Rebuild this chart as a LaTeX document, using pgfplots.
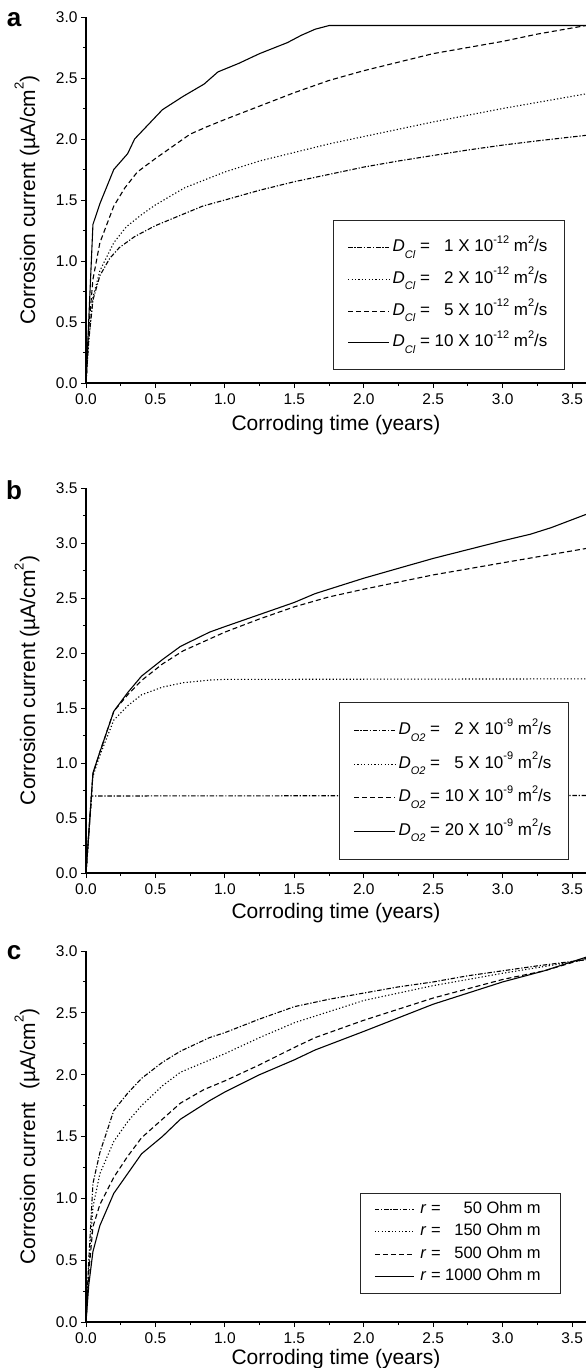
\documentclass[border=0pt]{standalone}
\usepackage{fontspec}
\setmainfont{Liberation Sans}
\usepackage{pgfplots}
\pgfplotsset{compat=1.18}

% small raised / lowered pieces for the legend texts
\newcommand\lsub[1]{\raisebox{-0.38em}{\fontsize{11}{11}\selectfont\itshape #1}}
\newcommand\lsup[1]{\raisebox{0.5em}{\fontsize{11}{11}\selectfont #1}}
\newcommand\ysup[1]{\raisebox{0.55em}{\fontsize{13}{13}\selectfont #1}}

\pgfplotsset{
  corr/.style={
    scale only axis, width=500pt,
    xmin=0, xmax=3.6, ymin=0,
    axis x line*=bottom, axis y line*=left, tick pos=left,
    axis line style={line width=1.2pt},
    xtick={0,0.5,...,3.5},
    minor x tick num=1, minor y tick num=1,
    tick align=outside,
    major tick length=5pt, minor tick length=3pt,
    every tick/.style={black, line width=0.9pt},
    /pgf/number format/fixed, /pgf/number format/fixed zerofill,
    /pgf/number format/precision=1, /pgf/number format/assume math mode=true,
    tick label style={font=\fontsize{15.5}{17}\selectfont},
    xticklabel style={yshift=-2pt},
    label style={font=\fontsize{21}{24}\selectfont},
    xlabel={Corroding time (years)},
    ylabel style={at={(axis description cs:-0.118,0.5)}, anchor=center},
    legend cell align=left,
    legend image code/.code={\draw[line width=1pt,##1] (0pt,0pt) -- (41pt,0pt);},
    legend style={draw=black!85, line width=0.9pt, anchor=center,
      font=\fontsize{17}{20}\selectfont,
      nodes={text height=12pt, text depth=4pt, inner ysep=0pt, inner xsep=3pt},
      inner xsep=14pt, inner ysep=19pt, row sep=15.7pt},
  },
  dd/.style={black, line width=1.1pt, dash pattern=on 4.5pt off 1.8pt on 1.2pt off 1.8pt},
  dt/.style={black, line width=1.1pt, dash pattern=on 1.2pt off 2.2pt},
  ds/.style={black, line width=1.1pt, dash pattern=on 5pt off 3pt},
  sl/.style={black, line width=1.1pt},
}

\begin{document}
\begin{tikzpicture}

% ---------------- a ----------------
\begin{axis}[corr, at={(86pt,-383pt)}, anchor=south west, height=366pt,
    ymax=3.0, ytick={0,0.5,...,3.0},
    xlabel style={at={(axis description cs:0.5,0)}, anchor=center, yshift=-42pt},
    ylabel={Corrosion current (µA/cm\ysup{2})},
    legend style={at={(0.726,0.240)}}]
\addplot[dd] coordinates {(0,0) (0.02,0.35) (0.05,0.68) (0.1,0.88) (0.17,1.02) (0.24,1.11) (0.35,1.2) (0.5,1.29) (0.67,1.37) (0.84,1.45) (1.0,1.5) (1.25,1.58) (1.5,1.65) (1.75,1.71) (2.0,1.77) (2.25,1.82) (2.5,1.865) (2.75,1.91) (3.0,1.95) (3.25,1.985) (3.6,2.03)};
\addplot[dt] coordinates {(0,0) (0.02,0.35) (0.05,0.7) (0.1,0.92) (0.2,1.15) (0.29,1.28) (0.4,1.38) (0.5,1.46) (0.71,1.6) (1.0,1.73) (1.25,1.82) (1.5,1.89) (1.75,1.96) (2.0,2.02) (2.5,2.14) (3.0,2.25) (3.6,2.37)};
\addplot[ds] coordinates {(0,0) (0.02,0.45) (0.05,0.85) (0.1,1.15) (0.2,1.45) (0.28,1.6) (0.37,1.73) (0.5,1.84) (0.6,1.92) (0.75,2.04) (0.87,2.1) (1.0,2.16) (1.25,2.27) (1.5,2.38) (1.75,2.48) (2.0,2.56) (2.25,2.63) (2.5,2.7) (2.75,2.75) (3.0,2.8) (3.25,2.86) (3.6,2.93)};
\addplot[sl] coordinates {(0,0) (0.05,1.3) (0.1,1.47) (0.2,1.75) (0.3,1.88) (0.35,2.0) (0.45,2.12) (0.55,2.24) (0.7,2.35) (0.85,2.45) (0.95,2.55) (1.1,2.62) (1.25,2.7) (1.45,2.79) (1.55,2.85) (1.65,2.9) (1.75,2.93) (3.6,2.93)};
\addlegendentry{\textit{D}\lsub{Cl} = \hphantom{1}1 X 10\lsup{-12} m\lsup{2}/s}
\addlegendentry{\textit{D}\lsub{Cl} = \hphantom{1}2 X 10\lsup{-12} m\lsup{2}/s}
\addlegendentry{\textit{D}\lsub{Cl} = \hphantom{1}5 X 10\lsup{-12} m\lsup{2}/s}
\addlegendentry{\textit{D}\lsub{Cl} = 10 X 10\lsup{-12} m\lsup{2}/s}
\end{axis}

% ---------------- b ----------------
\begin{axis}[corr, at={(86pt,-873pt)}, anchor=south west, height=385pt,
    ymax=3.5, ytick={0,0.5,...,3.5},
    xlabel style={at={(axis description cs:0.5,0)}, anchor=center, yshift=-40pt},
    ylabel={Corrosion current (µA/cm\ysup{2})},
    legend style={at={(0.736,0.239)}, inner ysep=20pt, row sep=17.4pt}]
\addplot[dd] coordinates {(0,0) (0.04,0.7) (3.6,0.705)};
\addplot[dt] coordinates {(0,0) (0.05,0.88) (0.1,1.07) (0.2,1.39) (0.3,1.52) (0.4,1.62) (0.55,1.69) (0.7,1.73) (0.9,1.755) (1.0,1.76) (3.6,1.765)};
\addplot[ds] coordinates {(0,0) (0.05,0.9) (0.1,1.1) (0.2,1.47) (0.3,1.62) (0.4,1.75) (0.55,1.9) (0.7,2.02) (1.0,2.19) (1.25,2.31) (1.5,2.42) (1.75,2.51) (2.0,2.58) (2.5,2.71) (3.0,2.82) (3.6,2.95)};
\addplot[sl] coordinates {(0,0) (0.05,0.91) (0.1,1.1) (0.2,1.47) (0.3,1.64) (0.4,1.79) (0.55,1.94) (0.68,2.06) (0.89,2.19) (1.0,2.24) (1.25,2.35) (1.5,2.46) (1.65,2.54) (2.0,2.68) (2.5,2.86) (3.0,3.02) (3.2,3.08) (3.35,3.14) (3.6,3.26)};
\addlegendentry{\textit{D}\lsub{O2} = \hphantom{1}2 X 10\lsup{-9} m\lsup{2}/s}
\addlegendentry{\textit{D}\lsub{O2} = \hphantom{1}5 X 10\lsup{-9} m\lsup{2}/s}
\addlegendentry{\textit{D}\lsub{O2} = 10 X 10\lsup{-9} m\lsup{2}/s}
\addlegendentry{\textit{D}\lsub{O2} = 20 X 10\lsup{-9} m\lsup{2}/s}
\end{axis}

% ---------------- c ----------------
\begin{axis}[corr, at={(86pt,-1322pt)}, anchor=south west, height=371pt,
    ymax=3.0, ytick={0,0.5,...,3.0},
    xlabel style={at={(axis description cs:0.5,0)}, anchor=center, yshift=-37pt},
    ylabel={Corrosion current\hspace{0.6em}(µA/cm\ysup{2})},
    legend image code/.code={\draw[line width=1pt,#1] (0pt,0pt) -- (39pt,0pt);},
    legend style={at={(0.749,0.213)}, font=\fontsize{16.5}{19}\selectfont,
      inner xsep=14pt, inner ysep=8.7pt, row sep=6.2pt,
      nodes={inner xsep=6pt}}]
\addplot[dd] coordinates {(0,0) (0.02,0.5) (0.05,1.12) (0.1,1.37) (0.2,1.71) (0.3,1.85) (0.4,1.97) (0.55,2.1) (0.68,2.19) (0.89,2.3) (1.0,2.34) (1.25,2.45) (1.5,2.55) (1.75,2.61) (2.0,2.66) (2.25,2.71) (2.5,2.75) (2.75,2.8) (3.0,2.84) (3.25,2.88) (3.6,2.93)};
\addplot[dt] coordinates {(0,0) (0.02,0.45) (0.05,0.93) (0.1,1.2) (0.2,1.46) (0.3,1.62) (0.4,1.75) (0.55,1.91) (0.68,2.02) (1.0,2.17) (1.25,2.3) (1.5,2.42) (1.75,2.51) (2.0,2.6) (2.5,2.72) (3.0,2.82) (3.6,2.93)};
\addplot[ds] coordinates {(0,0) (0.02,0.4) (0.05,0.77) (0.1,0.95) (0.2,1.17) (0.3,1.34) (0.4,1.49) (0.55,1.64) (0.68,1.77) (0.85,1.88) (1.0,1.95) (1.25,2.08) (1.5,2.22) (1.65,2.3) (2.0,2.44) (2.5,2.62) (3.0,2.77) (3.3,2.84) (3.6,2.94)};
\addplot[sl] coordinates {(0,0) (0.02,0.3) (0.05,0.57) (0.1,0.78) (0.2,1.04) (0.3,1.2) (0.4,1.36) (0.55,1.5) (0.68,1.64) (0.89,1.79) (1.0,1.86) (1.25,2.0) (1.5,2.12) (1.65,2.2) (2.0,2.35) (2.5,2.57) (3.0,2.75) (3.3,2.84) (3.6,2.95)};
\addlegendentry{\textit{r} = \hphantom{00}50 Ohm m}
\addlegendentry{\textit{r} = \hphantom{0}150 Ohm m}
\addlegendentry{\textit{r} = \hphantom{0}500 Ohm m}
\addlegendentry{\textit{r} = 1000 Ohm m}
\end{axis}

\node[font=\fontsize{26}{26}\selectfont\bfseries] at (14pt,-20pt) {a};
\node[font=\fontsize{26}{26}\selectfont\bfseries] at (14pt,-490pt) {b};
\node[font=\fontsize{26}{26}\selectfont\bfseries] at (14pt,-953pt) {c};

\pgfresetboundingbox
\path[use as bounding box] (0,0) rectangle (586pt,-1368pt);
\end{tikzpicture}
\end{document}
